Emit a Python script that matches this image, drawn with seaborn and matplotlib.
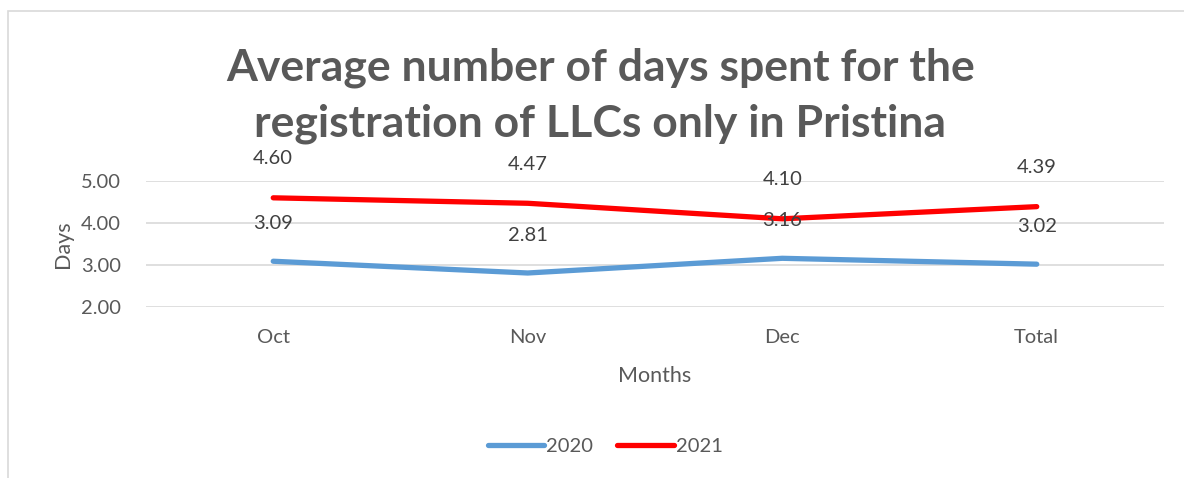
import matplotlib.pyplot as plt
import matplotlib.patches as mpatches
import numpy as np
import pandas as pd
import seaborn as sns

months = ['Oct', 'Nov', 'Dec', 'Total']
days_2020 = [3.09, 2.81, 3.16, 3.02]
days_2021 = [4.60, 4.47, 4.10, 4.39]
years = ['2020', '2021']
colors = {'2020': '#5B9BD5', '2021': '#FF0000'}

df = pd.DataFrame({
    'Months': months * 2,
    'Days': days_2020 + days_2021,
    'Year': ['2020'] * 4 + ['2021'] * 4,
})

sns.set_style('white')
plt.rcParams['font.family'] = ['Lato', 'DejaVu Sans']

fig = plt.figure(figsize=(11.84, 4.78), dpi=100)
ax = fig.add_axes([0.1233, 0.3577, 0.8598, 0.2636])

# chart frame (cropped on right/bottom like the reference)
fig.patches.append(mpatches.Rectangle((8 / 1184, -0.1), 1.2, (478 - 11) / 478 + 0.1,
                                      transform=fig.transFigure, fill=False,
                                      edgecolor='#D9D9D9', linewidth=1.2))

sns.lineplot(data=df, x='Months', y='Days', hue='Year', palette=colors,
             linewidth=3.8, ax=ax, legend=False, sort=False)
for line in ax.get_lines():
    line.set_solid_capstyle('round')

for i, m in enumerate(months):
    ax.annotate(f'{days_2020[i]:.2f}', (i, days_2020[i]), xytext=(0, 27),
                textcoords='offset points', ha='center', va='center',
                fontsize=14.5, color='#404040')
    ax.annotate(f'{days_2021[i]:.2f}', (i, days_2021[i]), xytext=(0, 28),
                textcoords='offset points', ha='center', va='center',
                fontsize=14.5, color='#404040')

ax.set_xlim(-0.5, 3.5)
ax.set_ylim(2.0, 5.0)
ax.set_yticks([2, 3, 4, 5])
ax.set_yticklabels([f'{v:.2f}' for v in [2, 3, 4, 5]])
ax.grid(axis='y', color='#D9D9D9', linewidth=1.2)
ax.set_axisbelow(True)
for s in ax.spines.values():
    s.set_visible(False)
ax.tick_params(axis='both', length=0, labelsize=14.5, labelcolor='#595959')
ax.tick_params(axis='x', pad=16)
ax.tick_params(axis='y', pad=18)
ax.set_xlabel('Months', fontsize=15.5, color='#595959', labelpad=14)
ax.set_ylabel('Days', fontsize=15.5, color='#595959', labelpad=6)

fig.text(0.507, 0.80, 'Average number of days spent for the\nregistration of LLCs only in Pristina',
         ha='center', va='center', fontsize=32, fontweight='bold', color='#595959',
         linespacing=1.45)

handles = [plt.Line2D([], [], color=colors[y], linewidth=3.8, solid_capstyle='round') for y in years]
fig.legend(handles, years, loc='center', bbox_to_anchor=(0.511, 0.065), ncol=2,
           frameon=False, fontsize=14.5, labelcolor='#595959', handlelength=2.8,
           handletextpad=0.1, columnspacing=1.2)

fig.savefig('out.png', dpi=100)
